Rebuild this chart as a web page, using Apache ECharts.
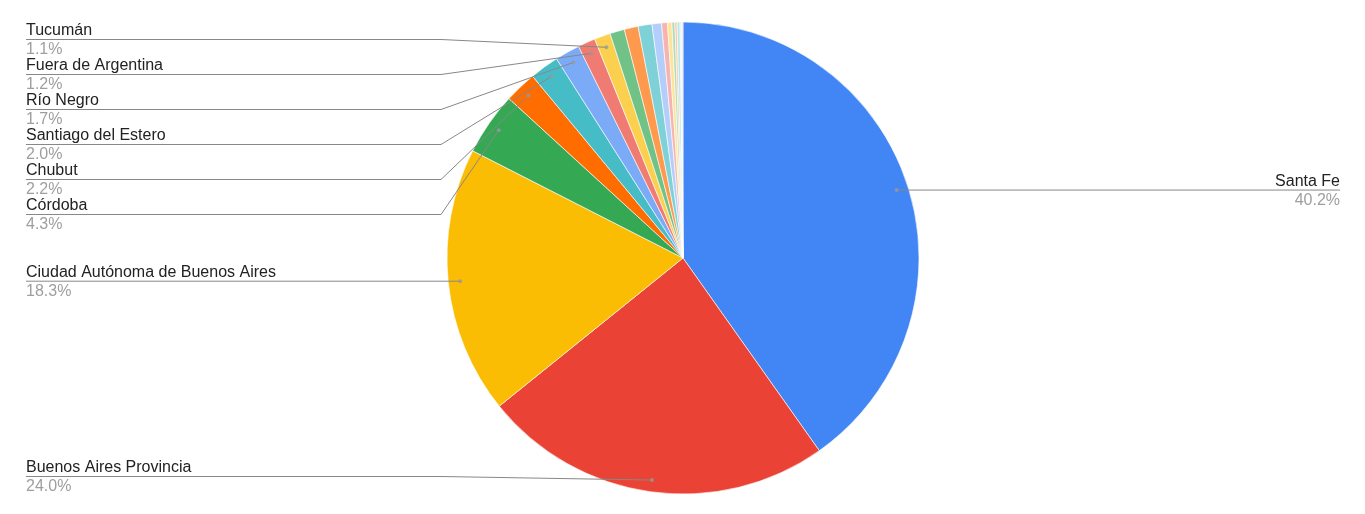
<!DOCTYPE html>
<html>
<head>
<meta charset="utf-8">
<script src="https://cdn.jsdelivr.net/npm/echarts@6/dist/echarts.min.js"></script>
<style>
html,body{margin:0;padding:0;background:#fff;}
#chart{width:1365px;height:514px;}
</style>
</head>
<body>
<div id="chart"></div>
<script>
// ---- data ----
var categories = ["Santa Fe", "Buenos Aires Provincia", "Ciudad Autónoma de Buenos Aires", "Córdoba", "Chubut",
  "Santiago del Estero", "Río Negro", "Fuera de Argentina", "Tucumán",
  "Mendoza", "Entre Ríos", "Neuquén", "Salta", "La Pampa", "Corrientes", "Misiones", "Jujuy", "San Luis", "Chaco", "Tierra del Fuego"];
var shares = [40.2, 24.0, 18.3, 4.3, 2.2, 2.0, 1.7, 1.2, 1.1,
  1.0, 0.95, 0.95, 0.65, 0.4, 0.3, 0.2, 0.15, 0.2, 0.1, 0.1];
var palette = ["#4285f4", "#ea4335", "#fbbc04", "#34a853", "#ff6d01", "#46bdc6", "#7baaf7", "#f07b72", "#fcd04f",
  "#71c287", "#ff994d", "#7ed1d7", "#b3cefb", "#f7b4ae", "#fde49b", "#aedcba", "#ffc599", "#b5e8eb", "#dbe7fb", "#f5dcd9"];
var labelThreshold = 1.05;

// ---- layout ----
var CX = 683, CY = 258, R = 236;
var DOT_R = 0.95 * R;
var LABEL_STEP = 35;
var LEFT_X = 26, RIGHT_X = 1340;

var total = shares.reduce(function (a, b) { return a + b; }, 0);
var mids = [];
(function () {
  var acc = 0;
  for (var i = 0; i < shares.length; i++) {
    mids.push((acc + shares[i] / 2) / total);
    acc += shares[i];
  }
})();

function dotPoint(i) {
  var th = mids[i] * 2 * Math.PI;
  return [CX + DOT_R * Math.sin(th), CY - DOT_R * Math.cos(th)];
}

// resolve label vertical positions (per side)
var labelY = {};
(function () {
  var minY = CY - R + LABEL_STEP / 2, maxY = CY + R - LABEL_STEP / 2;
  ['L', 'R'].forEach(function (side) {
    var items = [];
    for (var i = 0; i < shares.length; i++) {
      if (shares[i] < labelThreshold) continue;
      var p = dotPoint(i);
      var s = p[0] < CX ? 'L' : 'R';
      if (s === side) items.push({ i: i, y: p[1] });
    }
    items.sort(function (a, b) { return a.y - b.y; });
    var groups = items.map(function (it) { return { items: [it] }; });
    function place(g) {
      var n = g.items.length;
      var mean = g.items.reduce(function (a, b) { return a + b.y; }, 0) / n;
      var start = mean - (n - 1) * LABEL_STEP / 2;
      if (start < minY) start = minY;
      if (start + (n - 1) * LABEL_STEP > maxY) start = maxY - (n - 1) * LABEL_STEP;
      g.start = start; g.end = start + (n - 1) * LABEL_STEP;
    }
    groups.forEach(place);
    var changed = true;
    while (changed) {
      changed = false;
      for (var k = 0; k < groups.length - 1; k++) {
        if (groups[k].end + LABEL_STEP > groups[k + 1].start + 0.01) {
          groups[k].items = groups[k].items.concat(groups[k + 1].items);
          groups.splice(k + 1, 1);
          place(groups[k]);
          changed = true;
          break;
        }
      }
    }
    groups.forEach(function (g) {
      g.items.forEach(function (it, k) { labelY[it.i] = g.start + k * LABEL_STEP; });
    });
  });
})();

// colored slices (no labels)
var pieData = categories.map(function (name, i) {
  return { name: name, value: shares[i], itemStyle: { color: palette[i] } };
});
// transparent overlay carrying labels and label lines above the slices
var labelData = categories.map(function (name, i) {
  return {
    name: name,
    value: shares[i],
    label: { show: shares[i] >= labelThreshold },
    labelLine: { show: shares[i] >= labelThreshold }
  };
});

var dotData = [];
for (var i = 0; i < shares.length; i++) {
  if (shares[i] >= labelThreshold) dotData.push([0.95, mids[i] * 100]);
}

var chart = echarts.init(document.getElementById('chart'), null, { renderer: 'canvas' });
chart.setOption({
  animation: false,
  backgroundColor: '#ffffff',
  polar: { center: [CX, CY], radius: R },
  angleAxis: { type: 'value', min: 0, max: 100, startAngle: 90, clockwise: true, show: false },
  radiusAxis: { type: 'value', min: 0, max: 1, show: false },
  series: [
    {
      type: 'pie',
      center: [CX, CY],
      radius: R,
      startAngle: 90,
      clockwise: true,
      silent: true,
      itemStyle: { borderColor: '#ffffff', borderWidth: 0.6 },
      emphasis: { disabled: true },
      label: { show: false },
      labelLine: { show: false },
      data: pieData,
      z: 2
    },
    {
      type: 'pie',
      center: [CX, CY],
      radius: R,
      startAngle: 90,
      clockwise: true,
      silent: true,
      avoidLabelOverlap: false,
      itemStyle: { color: 'rgba(0,0,0,0)', borderWidth: 0 },
      emphasis: { disabled: true },
      label: {
        position: 'outer',
        formatter: function (p) { return '{n|' + p.name + '}\n{p|' + p.value.toFixed(1) + '%}'; },
        rich: {
          n: { fontFamily: 'Liberation Sans, Arial, sans-serif', fontSize: 16, color: '#222222', lineHeight: 19 },
          p: { fontFamily: 'Liberation Sans, Arial, sans-serif', fontSize: 16, color: '#9e9e9e', lineHeight: 19 }
        }
      },
      labelLine: { lineStyle: { color: '#888888', width: 1 }, smooth: false },
      labelLayout: function (params) {
        var i = params.dataIndex;
        if (shares[i] < labelThreshold || labelY[i] == null) return {};
        var d = dotPoint(i);
        var left = d[0] < CX;
        var ly = labelY[i];
        var elbowX = left ? CX - R - 6 : CX + R + 6;
        var textX = left ? LEFT_X : RIGHT_X;
        return {
          x: textX,
          y: ly + 1,
          align: left ? 'left' : 'right',
          verticalAlign: 'middle',
          labelLinePoints: [d, [elbowX, ly], [textX, ly]]
        };
      },
      data: labelData,
      z: 4
    },
    {
      type: 'scatter',
      coordinateSystem: 'polar',
      symbol: 'circle',
      symbolSize: 4,
      itemStyle: { color: '#999999' },
      silent: true,
      data: dotData,
      z: 6
    }
  ]
});
</script>
</body>
</html>
